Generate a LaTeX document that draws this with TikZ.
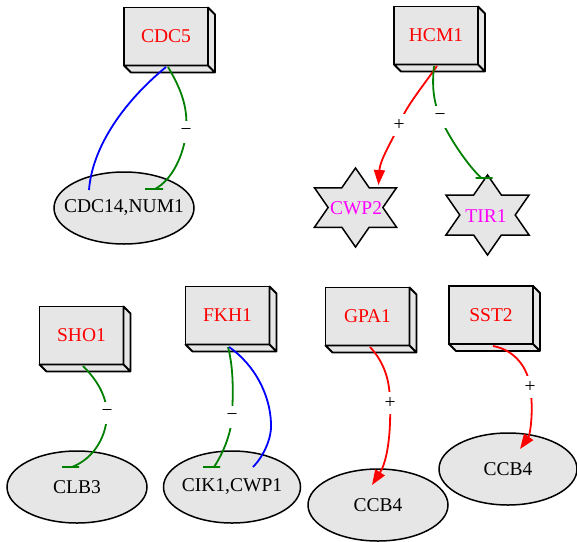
\documentclass[tikz,border=0pt]{standalone}
\usepackage{fontspec}
\setmainfont{Liberation Serif}
\usetikzlibrary{arrows.meta,shapes.geometric}
\definecolor{boxfill}{HTML}{E6E6E6}
\definecolor{actgreen}{HTML}{008000}
\definecolor{pinkish}{HTML}{FF00FF}
\definecolor{pure red}{HTML}{FF0000}
\newcommand\ctr[1]{\makebox[0pt]{#1}}
\tikzset{
  gene/.style={draw, fill=boxfill, line width=1.8pt, minimum width=84pt,
    minimum height=58pt, inner sep=0pt, outer sep=0pt, text=pure red},
  side/.style={draw, fill=boxfill, line width=1.8pt, line join=round},
  blob/.style={draw, fill=boxfill, line width=1.5pt, ellipse, minimum width=140pt,
    minimum height=72pt, inner sep=0pt},
  starsty/.style={draw, fill=boxfill, line width=1.5pt, line join=miter},
  startext/.style={text=pinkish, inner sep=0pt},
  inh/.style={draw=actgreen, line width=1.8pt, line cap=butt},
  act/.style={draw=pure red, line width=1.8pt, -{Triangle[length=15pt,width=11pt]}},
  bind/.style={draw=blue, line width=1.8pt},
  lab/.style={fill=white, text=black, inner sep=1pt, minimum height=22pt},
}
% 3D side faces of a gene box
\newcommand\boxside[1]{%
  \filldraw[side] (#1.north east) -- ++(7,7) -- ([shift={(7,7)}]#1.south east)
    -- ([shift={(7,7)}]#1.south west) -- (#1.south west) -- (#1.south east) -- cycle
    (#1.south east) -- ++(7,7);}
% six-pointed star, slightly widened
\newcommand\hexstar[3]{%
  \draw[starsty] plot[samples at={0,...,11}]
    ({#1+1.2*#3*(1-0.4226*mod(\x,2))*cos(90+30*\x)},
     {#2-#3*(1-0.4226*mod(\x,2))*sin(90+30*\x)}) -- cycle;}
\begin{document}
\begin{tikzpicture}[x=1pt, y=-1pt, font=\fontsize{19.5}{23}\selectfont]
\useasboundingbox (0,0) rectangle (577,541);

% gene boxes
\node[gene] (cdc5) at (166,36.5) {CDC5};   \boxside{cdc5}
\node[gene] (hcm1) at (436,35.5) {HCM1};   \boxside{hcm1}
\node[gene] (sho1) at (81.5,335.5) {SHO1}; \boxside{sho1}
\node[gene] (fkh1) at (227.5,315.5) {FKH1}; \boxside{fkh1}
\node[gene] (gpa1) at (367.5,316.5) {GPA1}; \boxside{gpa1}
\node[gene] (sst2) at (491,315) {SST2};    \boxside{sst2}

% targets
\node[blob] (cdc14) at (124,208) {\ctr{CDC14,NUM1}};
\node[blob] (clb3) at (77,487) {\ctr{CLB3}};
\node[blob, minimum width=137pt] (cik1) at (232,487) {\ctr{CIK1,CWP1}};
\node[blob] (ccb4a) at (378,505) {\ctr{CCB4}};
\node[blob, minimum width=138pt] (ccb4b) at (508,469) {\ctr{CCB4}};

\hexstar{355.5}{207.5}{39.5}
\node[startext] (cwp2) at (356,208.5) {CWP2};
\hexstar{487.5}{215}{40}
\node[startext] (tir1) at (486,216) {TIR1};

% CDC5
\draw[bind] ([shift={(0,30.5)}]cdc5.center) .. controls (120,105) and (92,150) ..
  ([shift={(-35,-18)}]cdc14.center);
\draw[inh] ([shift={(2,30.5)}]cdc5.center) .. controls (183,92) and (188,110) ..
  (186,132) node[lab] (l1) {−} .. controls (184,155) and (172,180) ..
  ([shift={(31,-19)}]cdc14.center) -- ++(8,0) -- ++(-18,0);

% HCM1
\draw[act] ([shift={(1,30.5)}]hcm1.center) .. controls (420,90) and (405,108) ..
  (399,125) node[lab] (l2) {+} .. controls (390,145) and (380,160) ..
  ([shift={(22.5,-23.5)}]cwp2.center);
\draw[inh] ([shift={(-2,30.5)}]hcm1.center) .. controls (432,85) and (433,100) ..
  (440,117) node[lab] (l3) {−} .. controls (450,140) and (470,168) ..
  ([shift={(-4.5,-38)}]tir1.center) -- ++(11,0) -- ++(-17,0);

% SHO1
\draw[inh] ([shift={(1.5,30.5)}]sho1.center) .. controls (97,380) and (106,395) ..
  (107,413) node[lab] (l4) {−} .. controls (107,435) and (95,458) ..
  ([shift={(-5,-20)}]clb3.center) -- ++(7,0) -- ++(-17,0);

% FKH1
\draw[inh] ([shift={(0.5,31.5)}]fkh1.center) .. controls (234,370) and (233,395) ..
  (232,417) node[lab] (l5) {−} .. controls (231,435) and (222,455) ..
  ([shift={(-18,-20)}]cik1.center) -- ++(6,0) -- ++(-17,0);
\draw[bind] ([shift={(1.5,31.5)}]fkh1.center) .. controls (255,365) and (270,395) ..
  (271,423) .. controls (272,440) and (262,458) ..
  ([shift={(21,-20)}]cik1.center);

% GPA1
\draw[act] ([shift={(2.5,30.5)}]gpa1.center) .. controls (384,362) and (390,380) ..
  (390,403) node[lab] (l6) {+} .. controls (391,430) and (388,460) ..
  ([shift={(-6,-20)}]ccb4a.center);

% SST2
\draw[act] ([shift={(2,31)}]sst2.center) .. controls (515,350) and (528,368) ..
  (530,387) node[lab] (l7) {+} .. controls (534,410) and (530,435) ..
  ([shift={(12,-20)}]ccb4b.center);
\end{tikzpicture}
\end{document}
